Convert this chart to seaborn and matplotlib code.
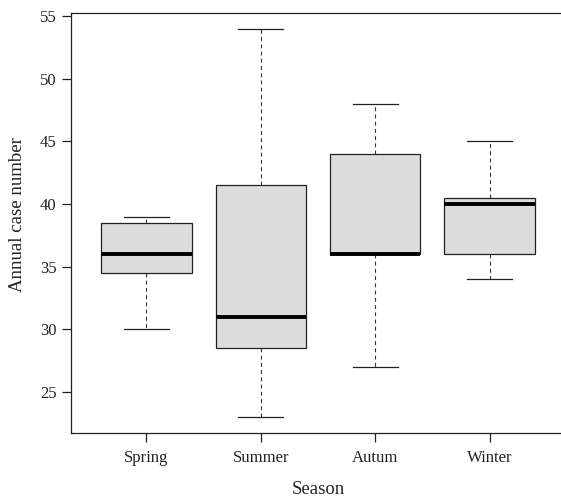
import matplotlib
matplotlib.use("Agg")
import matplotlib.pyplot as plt
import seaborn as sns
import pandas as pd

seasons = ["Spring", "Summer", "Autum", "Winter"]
spring = [30, 34.5, 36, 38.5, 39]
summer = [23, 28.5, 31, 41.5, 54]
autum = [27, 36, 36, 44, 48]
winter = [34, 36, 40, 40.5, 45]
y_ticks = [25, 30, 35, 40, 45, 50, 55]

plt.rcParams['font.family'] = ['Liberation Serif', 'DejaVu Serif']

df = pd.DataFrame({
    "Season": [s for s, vals in zip(seasons, [spring, summer, autum, winter]) for _ in vals],
    "Cases": spring + summer + autum + winter,
})

fig = plt.figure(figsize=(5.61, 4.99), dpi=100)
ax = fig.add_axes([71/561, 66.3/499, 494/561, 419.7/499])

sns.boxplot(data=df, x="Season", y="Cases", order=seasons, ax=ax,
            color="#DCDDDC", saturation=1, width=0.79, whis=(0, 100),
            linecolor="black", linewidth=0.9,
            boxprops=dict(facecolor="#DCDDDC", edgecolor="#222222", linewidth=0.9),
            whiskerprops=dict(linestyle=(0, (3.5, 3)), color="#333333", linewidth=0.8),
            capprops=dict(color="#222222", linewidth=0.9),
            medianprops=dict(color="black", linewidth=2.8))

ax.set_xlim(-0.66, 3.66)
ax.set_ylim(21.76, 55.24)
ax.set_yticks(y_ticks)
ax.set_yticklabels([str(t) for t in y_ticks])
ax.spines['right'].set_visible(False)
for s in ['left', 'bottom', 'top']:
    ax.spines[s].set_linewidth(0.9)
    ax.spines[s].set_color("#222222")
ax.tick_params(axis='both', direction='out', length=6.5, width=0.9, color="#222222",
               labelsize=12, labelcolor="#222222")
ax.tick_params(axis='y', pad=4)
ax.tick_params(axis='x', pad=6)
ax.set_xlabel("Season", fontsize=13.5, color="#222222")
ax.set_ylabel("Annual case number", fontsize=13.5, color="#222222")
ax.xaxis.set_label_coords(0.5, -0.116)
ax.yaxis.set_label_coords(-0.092, 0.52)

fig.savefig("out.png", dpi=100)
